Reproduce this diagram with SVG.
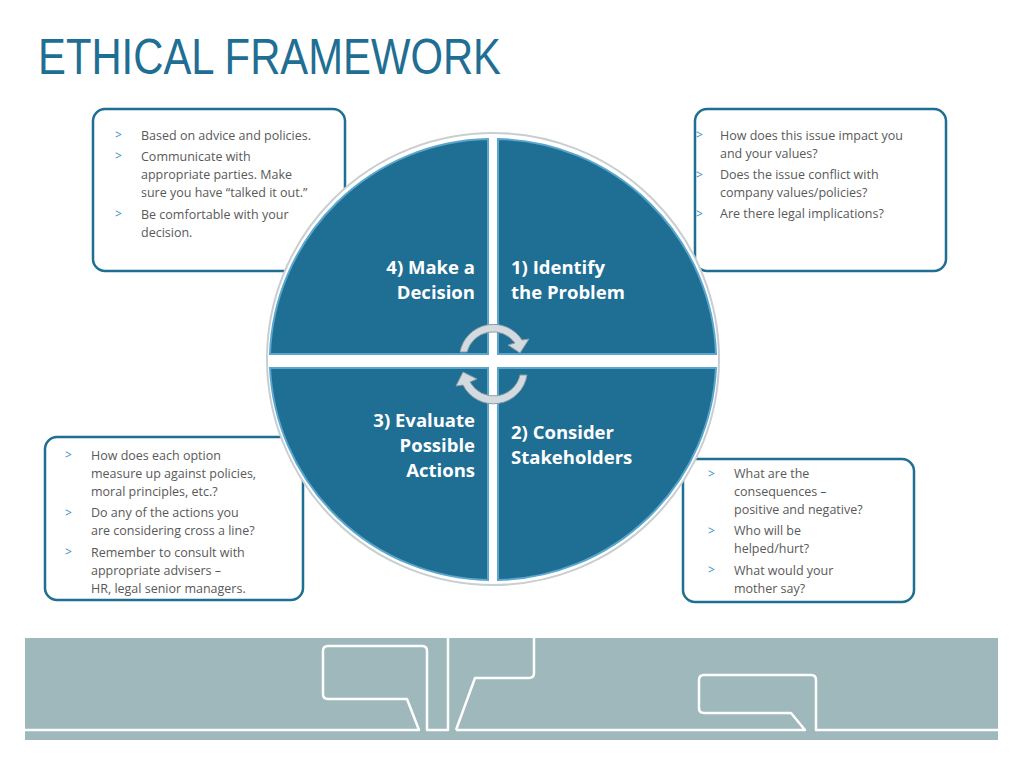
<svg xmlns="http://www.w3.org/2000/svg" width="1024" height="768" viewBox="0 0 1024 768">
<style>
.box{fill:#fff;stroke:#1f6e93;stroke-width:2.5}
.t{font-family:"Open Sans","Liberation Sans",sans-serif;font-size:12.5px;fill:#595959}
.b{font-family:"Open Sans","Liberation Sans",sans-serif;font-size:12px;fill:#3b8fc4}
.q{fill:#1f6e93;stroke:#5aa6cc;stroke-width:2}
.lab{font-family:"Open Sans","Liberation Sans",sans-serif;font-size:18.5px;font-weight:bold;fill:#fff}
.arr{fill:#d3dbe0;stroke:#8d9aa3;stroke-width:1}
</style>
<rect width="1024" height="768" fill="#fff"/>
<text x="38" y="74" font-family="Liberation Sans,Arial,sans-serif" font-size="50" fill="#1f6e93" textLength="463" lengthAdjust="spacingAndGlyphs">ETHICAL FRAMEWORK</text>

<g id="box-tl"><rect class="box" x="93" y="109" width="252" height="162" rx="12"/>
<text class="b" x="115" y="139">&gt;</text><text class="t" x="141" y="140">Based on advice and policies.</text>
<text class="b" x="115" y="160">&gt;</text><text class="t" x="141" y="161">Communicate with</text>
<text class="t" x="141" y="179">appropriate parties. Make</text>
<text class="t" x="141" y="197">sure you have “talked it out.”</text>
<text class="b" x="115" y="218">&gt;</text><text class="t" x="141" y="219">Be comfortable with your</text>
<text class="t" x="141" y="237">decision.</text></g>

<g id="box-tr"><rect class="box" x="695" y="109" width="251" height="162" rx="12"/>
<text class="b" x="696" y="139">&gt;</text><text class="t" x="720" y="140">How does this issue impact you</text>
<text class="t" x="720" y="158">and your values?</text>
<text class="b" x="696" y="179">&gt;</text><text class="t" x="720" y="179">Does the issue conflict with</text>
<text class="t" x="720" y="197">company values/policies?</text>
<text class="b" x="696" y="218">&gt;</text><text class="t" x="720" y="218">Are there legal implications?</text></g>

<g id="box-bl"><rect class="box" x="45" y="437" width="258" height="163" rx="12"/>
<text class="b" x="65" y="459">&gt;</text><text class="t" x="91" y="460">How does each option</text>
<text class="t" x="91" y="478">measure up against policies,</text>
<text class="t" x="91" y="496">moral principles, etc.?</text>
<text class="b" x="65" y="517">&gt;</text><text class="t" x="91" y="517">Do any of the actions you</text>
<text class="t" x="91" y="535">are considering cross a line?</text>
<text class="b" x="65" y="556">&gt;</text><text class="t" x="91" y="557">Remember to consult  with</text>
<text class="t" x="91" y="575">appropriate advisers –</text>
<text class="t" x="91" y="593">HR, legal senior managers.</text></g>

<g id="box-br"><rect class="box" x="683" y="459" width="231" height="143" rx="12"/>
<text class="b" x="708" y="478">&gt;</text><text class="t" x="734" y="478">What are the</text>
<text class="t" x="734" y="496">consequences –</text>
<text class="t" x="734" y="514">positive and negative?</text>
<text class="b" x="708" y="535">&gt;</text><text class="t" x="734" y="535">Who will be</text>
<text class="t" x="734" y="553">helped/hurt?</text>
<text class="b" x="708" y="574">&gt;</text><text class="t" x="734" y="575">What would your</text>
<text class="t" x="734" y="593">mother say?</text></g>

<g id="wheel">
<circle cx="493" cy="359" r="226" fill="#fff" stroke="#c8ced2" stroke-width="2"/>
<g id="q4"><path class="q" d="M488,139 V354 H270 A223,223 0 0 1 488,139 Z"/><text class="lab" text-anchor="end"><tspan x="475" y="274">4) Make a</tspan><tspan x="475" y="299">Decision</tspan></text></g>
<g id="q1"><path class="q" d="M498,139 V354 H716 A223,223 0 0 0 498,139 Z"/><text class="lab"><tspan x="511" y="274">1) Identify</tspan><tspan x="511" y="299">the Problem</tspan></text></g>
<g id="q3"><path class="q" d="M488,580 V368 H270 A223,223 0 0 0 488,580 Z"/><text class="lab" text-anchor="end"><tspan x="475" y="427">3) Evaluate</tspan><tspan x="475" y="452">Possible</tspan><tspan x="475" y="477">Actions</tspan></text></g>
<g id="q2"><path class="q" d="M498,580 V368 H716 A223,223 0 0 1 498,580 Z"/><text class="lab"><tspan x="511" y="439">2) Consider</tspan><tspan x="511" y="464">Stakeholders</tspan></text></g>
</g>
<g id="connectors">
<path class="arr" d="M460,352 A34,34 0 0 1 522,340 L529,339 L520,353 L508,345 L515,343 A27,27 0 0 0 467,352 Z"/>
<path class="arr" d="M527,375 A34,34 0 0 1 463,385 L456,386 L463,372 L477,379 L470,382 A27,27 0 0 0 520,375 Z"/>
</g>
<g id="banner">
<rect x="25" y="638" width="973" height="102" fill="#9eb8bc"/>
<path d="M25,730 H419 L407,699 H328 Q323,699 323,694 V651 Q323,646 328,646 H422 Q427,646 427,651 V730 H448 V638 M456,730 L475,678 H529 Q534,678 534,673 V638 M456,730 H805 L791,713 H704 Q699,713 699,708 V680 Q699,675 704,675 H811 Q816,675 816,680 V730 H998" fill="none" stroke="#fff" stroke-width="2.5" stroke-linejoin="round"/>
</g>
</svg>
